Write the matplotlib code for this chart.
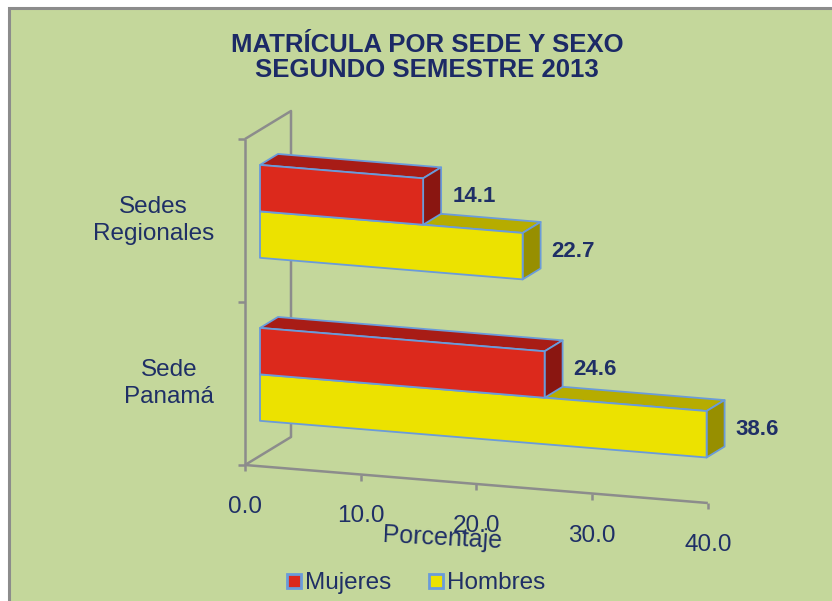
import matplotlib.pyplot as plt
from matplotlib.patches import Polygon, Rectangle
from matplotlib.lines import Line2D
from matplotlib.transforms import Affine2D

plt.rcParams['font.family'] = ['Liberation Sans', 'DejaVu Sans']

# Data
categories = ["Sede\nPanamá", "Sedes\nRegionales"]
mujeres = [24.6, 14.1]
hombres = [38.6, 22.7]
series_names = ["Mujeres", "Hombres"]
ticks = [0, 10, 20, 30, 40]
tick_labels = ["0.0", "10.0", "20.0", "30.0", "40.0"]

# Colours
bg = "#C4D79B"
edge = "#6A9BDA"
txt = "#1F2F66"
red = ("#DC291C", "#A81C16", "#8A1611")      # front, top, side
yellow = ("#ECE200", "#B6AC00", "#978F00")

fig = plt.figure(figsize=(8.32, 6.01), dpi=100)
fig.patch.set_facecolor("white")
ax = fig.add_axes([0, 0, 1, 1])
ax.set_xlim(0, 832)
ax.set_ylim(601, 0)
ax.axis("off")

# green panel with grey border (only top/left visible)
ax.add_patch(Rectangle((9, 7.5), 1000, 1000, facecolor=bg, edgecolor="#8C8C8C",
                       lw=2.2, zorder=0))

# oblique projection: (value, category, depth) -> pixel
front = Affine2D.from_values(11.57, 0.95, 0, -163, 245, 465 - 81.5)
depth_vec = (46, -28)


def proj(v, c, d=0.0):
    x, y = front.transform((v, c))
    return x + depth_vec[0] * d, y + depth_vec[1] * d


d0, d1 = 0.326, 0.717
bh = 0.285
wall = dict(color="#8C8C8C", lw=1.8, zorder=1, solid_capstyle="butt")

# walls
pts = [proj(0, 1.5, 0), proj(0, 1.5, 1), proj(0, -0.5, 1), proj(0, -0.5, 0)]
ax.plot([p[0] for p in pts], [p[1] for p in pts], **wall)
a, b = proj(0, -0.5, 0), proj(0, 1.5, 0)
ax.plot([a[0], b[0]], [a[1], b[1]], **wall)
for c in [-0.5, 0.5, 1.5]:
    x, y = proj(0, c, 0)
    ax.plot([x - 7, x], [y, y], **wall)
a, b = proj(ticks[0], -0.5, 0), proj(ticks[-1], -0.5, 0)
ax.plot([a[0], b[0]], [a[1], b[1]], **wall)
for t, lab in zip(ticks, tick_labels):
    x, y = proj(t, -0.5, 0)
    ax.plot([x, x], [y, y + 6], **wall)
    ax.text(x, y + 42, lab, ha="center", va="center", fontsize=17.5, color=txt)

ax.text(442, 538, "Porcentaje", ha="center", va="center", fontsize=18,
        color=txt, rotation=-3)


def bar3d(v, c0, h, cols):
    fr = [proj(0, c0, d0), proj(v, c0, d0), proj(v, c0 + h, d0), proj(0, c0 + h, d0)]
    top = [proj(0, c0 + h, d0), proj(v, c0 + h, d0), proj(v, c0 + h, d1), proj(0, c0 + h, d1)]
    side = [proj(v, c0, d0), proj(v, c0, d1), proj(v, c0 + h, d1), proj(v, c0 + h, d0)]
    for poly, fc in [(top, cols[1]), (side, cols[2]), (fr, cols[0])]:
        ax.add_patch(Polygon(poly, closed=True, facecolor=fc, edgecolor=edge,
                             lw=1.3, joinstyle="round", zorder=2))


for i, cat in enumerate(categories):
    bar3d(hombres[i], i - bh, bh, yellow)
    bar3d(mujeres[i], i, bh, red)
    for v, cc in [(mujeres[i], i + bh / 2), (hombres[i], i - bh / 2)]:
        x, y = proj(v, cc, 0.5)
        ax.text(x + 21, y, f"{v:.1f}", ha="left", va="center", fontsize=16,
                fontweight="bold", color=txt, zorder=3)
    x, y = proj(0, i, 0)
    ax.text(x - 31, y, cat, ha="right", va="center", multialignment="center",
            fontsize=17.5, color=txt, linespacing=1.35)

# title
ax.text(427, 45, "MATRÍCULA POR SEDE Y SEXO", ha="center", va="center",
        fontsize=18.5, fontweight="bold", color="#1C2A66")
ax.text(427, 70, "SEGUNDO SEMESTRE 2013", ha="center", va="center",
        fontsize=18.5, fontweight="bold", color="#1C2A66")

handles = [Line2D([], [], ls="none", marker="s", markersize=10,
                  markerfacecolor=fc[0], markeredgecolor=edge, markeredgewidth=2)
           for fc in (red, yellow)]
ax.legend(handles, series_names, loc="center", bbox_to_anchor=(415 / 832, 1 - 583 / 601),
          ncol=2, frameon=False, fontsize=17.5, handlelength=0.7, handletextpad=0.1,
          columnspacing=1.5, labelcolor=txt)

fig.savefig("out.png", dpi=100, facecolor=fig.get_facecolor())
